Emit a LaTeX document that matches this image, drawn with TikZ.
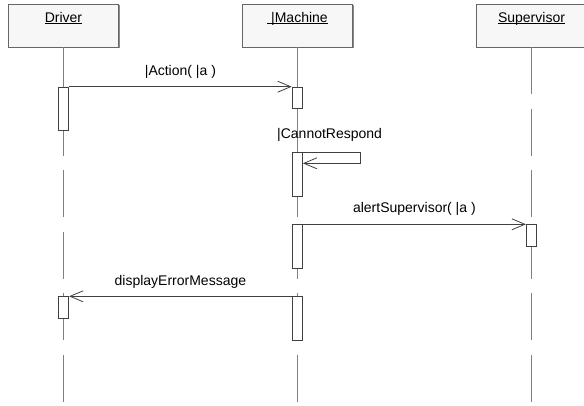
\documentclass[tikz,border=0pt]{standalone}
\usepackage{fontspec}
\setmainfont{Liberation Sans}
\usetikzlibrary{arrows.meta,shadows}

\tikzset{
  object/.style={draw=black!60, fill=black!3, line width=0.8pt,
    minimum width=110pt, inner sep=0pt, text height=18pt, text depth=25pt,
    drop shadow={shadow xshift=1pt, shadow yshift=-1pt, fill=black!45, opacity=1}},
  lifeline/.style={draw=black!50, line width=1.1pt, dash pattern=on 47pt off 14.5pt},
  activation/.style={draw=black!75, fill=white, line width=0.8pt,
    minimum width=10.4pt, inner sep=0pt, anchor=north},
  message/.style={draw=black!75, line width=0.8pt,
    -{Straight Barb[length=13pt, width=11pt]}},
  msglabel/.style={above=8pt, inner sep=0pt}
}

\begin{document}
\begin{tikzpicture}[x=1pt, y=-1pt, font=\fontsize{14}{16}\selectfont]
    \useasboundingbox (0,0) rectangle (584,405);

    % objects
    \node[object] (driver) at (63.5,25.5) {\underline{\smash{Driver}}};
    \node[object] (machine) at (297.5,25.5) {\underline{\smash{\ |Machine}}};
    \node[object] (supervisor) at (531.5,25.5) {\underline{\smash{Supervisor}}};

    % lifelines
    \coordinate (driverEnd) at (63.5,402.7);
    \coordinate (machineEnd) at (297.5,402.7);
    \coordinate (supervisorEnd) at (531.5,402.7);
    \draw[lifeline] (driver.south) -- (driverEnd);
    \draw[lifeline] (machine.south) -- (machineEnd);
    \draw[lifeline] (supervisor.south) -- (supervisorEnd);

    % activations
    \node[activation, minimum height=43.3pt] (drvAct1) at (63.5,86.7) {};
    \node[activation, minimum height=21pt] (macAct1) at (297.3,86.7) {};
    \node[activation, minimum height=43.7pt] (macAct2) at (297.3,152.3) {};
    \node[activation, minimum height=44pt] (macAct3) at (297.3,224.3) {};
    \node[activation, minimum height=21.3pt] (supAct1) at (531.5,224.3) {};
    \node[activation, minimum height=44pt] (macAct4) at (297.3,296.3) {};
    \node[activation, minimum height=21.7pt] (drvAct2) at (63.5,296.3) {};

    % messages
    \draw[message] (drvAct1.north east) -- node[msglabel] {|Action( |a )} (macAct1.north west);

    \node[inner sep=0pt, anchor=south west] (cannotLbl) at (277,142) {|CannotRespond};
    \draw[message] (macAct2.north east) -- ++(57.5,0) |- ([yshift=-11pt]macAct2.north east);

    \draw[message] (macAct3.north east) -- node[msglabel] {alertSupervisor( |a )} (supAct1.north west);

    \draw[message] (macAct4.north west) -- node[msglabel] {displayErrorMessage} (drvAct2.north east);

\end{tikzpicture}
\end{document}
